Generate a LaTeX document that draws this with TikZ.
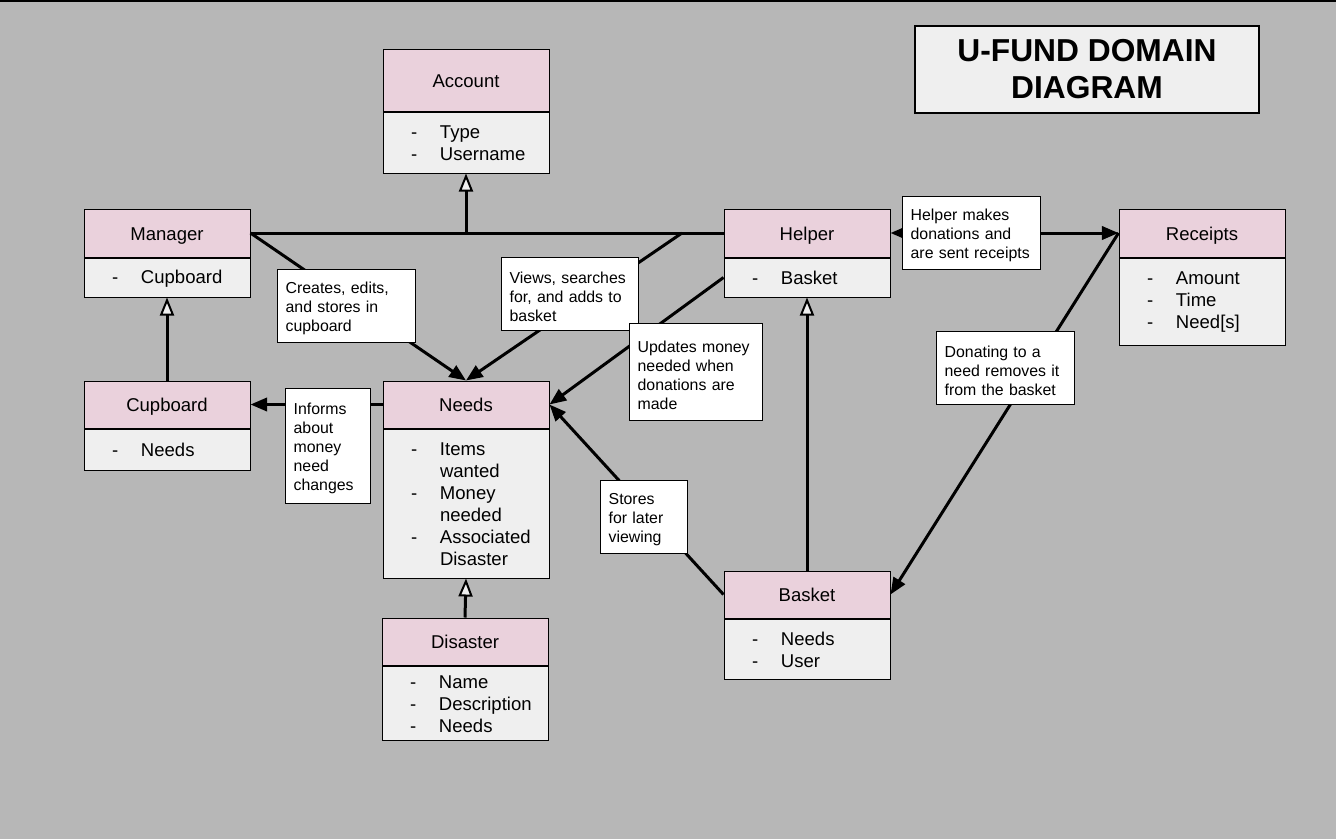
\documentclass[tikz,border=0pt]{standalone}
\usepackage{fontspec}
\setmainfont{Liberation Sans}
\usetikzlibrary{positioning,arrows.meta}

\definecolor{bggray}{HTML}{B7B7B7}
\definecolor{headpink}{HTML}{EAD1DC}
\definecolor{bodygray}{HTML}{EFEFEF}

\newcommand{\boxfont}{\fontsize{13.9}{16.5}\selectfont}
\newcommand{\notefont}{\fontsize{11.9}{14.25}\selectfont}
\newcommand{\itm}[1]{\hspace*{21pt}\makebox[21.75pt][l]{-}#1}
\newcommand{\itmc}[1]{\hspace*{42.75pt}#1}

\tikzset{
  head/.style={draw, line width=0.75pt, fill=headpink, minimum width=124.5pt,
    minimum height=35.25pt, inner sep=0pt, text height=11pt, text depth=0pt, font=\boxfont},
  body/.style={draw, line width=0.75pt, fill=bodygray, text width=124.5pt,
    inner xsep=0pt, inner ysep=0pt, align=left, font=\boxfont, below=0pt of #1,
    execute at end node=\vspace*{-1.5pt}},
  note/.style={draw, line width=0.75pt, fill=white, inner xsep=6.5pt,
    inner ysep=0pt, text width=#1, minimum height=54.75pt, align=left, font=\notefont,
    execute at end node=\vspace*{-5pt}},
  link/.style={line width=2.25pt},
  fillhead/.style={-{Triangle[length=12.5pt,width=10pt]}},
  openhead/.style={-{Triangle[length=13.5pt,width=10.5pt,fill=bodygray,line width=1.5pt]}}
}

\begin{document}
\begin{tikzpicture}[x=0.75pt,y=-0.75pt]
\useasboundingbox[fill=bggray] (0,0) rectangle (1336,839);
\fill[black] (0,0) rectangle (1336,1.5);

% title
\node[draw, line width=1pt, fill=bodygray, minimum width=258pt, minimum height=65.25pt,
  align=center, font=\fontsize{23.8}{27.75}\selectfont\bfseries] (title) at (1087,69.5)
  {U-FUND DOMAIN\\DIAGRAM};

% classes
\node[head, minimum height=46.5pt] (acc) at (466,80) {Account};
\node[body=acc, minimum height=45.75pt] (accb) {\itm{Type}\\\itm{Username}};

\node[head, minimum height=36pt] (mgr) at (167,233) {Manager};
\node[body=mgr, minimum height=29.25pt] (mgrb) {\itm{Cupboard}};

\node[head, minimum height=36pt] (hlp) at (807,233) {Helper};
\node[body=hlp, minimum height=29.25pt] (hlpb) {\itm{Basket}};

\node[head, minimum height=36pt] (rcp) at (1202,233) {Receipts};
\node[body=rcp, minimum height=65.25pt] (rcpb) {\itm{Amount}\\\itm{Time}\\\itm{Need[s]}};

\node[head] (cup) at (167,404.5) {Cupboard};
\node[body=cup, minimum height=30.75pt] (cupb) {\itm{Needs}};

\node[head] (nds) at (466,404.5) {Needs};
\node[body=nds, minimum height=111.75pt] (ndsb)
  {\itm{Items}\\\itmc{wanted}\\\itm{Money}\\\itmc{needed}\\\itm{Associated}\\\itmc{Disaster}};

\node[head] (dis) at (465,641.5) {Disaster};
\node[body=dis, minimum height=55.5pt] (disb) {\itm{Name}\\\itm{Description}\\\itm{Needs}};

\node[head] (bsk) at (807,594.5) {Basket};
\node[body=bsk, minimum height=45pt] (bskb) {\itm{Needs}\\\itm{User}};

% connectors
\coordinate (vsplit) at (682,233);
\draw[link] (mgr.east) -- (hlp.west);
\draw[link, openhead] (mgr.east -| acc.south) -- (accb.south);
\draw[link, fillhead] (mgr.east) -- (nds.north);
\draw[link, fillhead] (vsplit) -- (nds.north);
\draw[link, fillhead] (hlpb.west) -- (nds.east);
\draw[link, fillhead] (bsk.west) -- (nds.east);
\draw[link, openhead] (bsk.north) -- (hlpb.south);
\draw[link, fillhead] (nds.west) -- (cup.east);
\draw[link, openhead] (cup.north) -- (mgrb.south);
\draw[link, openhead] (dis.north) -- (ndsb.south);
\draw[link, {Triangle[length=12.5pt,width=10pt]}-{Triangle[length=12.5pt,width=10pt]}] (hlp.east) -- (rcp.west);
\draw[link, fillhead] (rcp.west) -- (bsk.east);

% labels
\node[note=90.5pt] (ncreate) at (346,305.5) {Creates, edits,\\and stores in\\cupboard};
\node[note=89.75pt] (nview) at (569.5,293.5) {Views, searches\\for, and adds to\\basket};
\node[note=86.75pt, minimum height=72.75pt] (nupdate) at (695.5,371.5)
  {Updates money\\needed when\\donations are\\made};
\node[note=90.5pt] (nhelp) at (971,232.5) {Helper makes\\donations and\\are sent receipts};
\node[note=90.5pt] (ndonate) at (1005,367.5) {Donating to a\\need removes it\\from the basket};
\node[note=50.75pt, minimum height=86.25pt] (ninform) at (327.5,445.5)
  {Informs\\about\\money\\need\\changes};
\node[note=52.25pt] (nstore) at (643.5,516.5) {Stores\\for later\\viewing};
\end{tikzpicture}
\end{document}
